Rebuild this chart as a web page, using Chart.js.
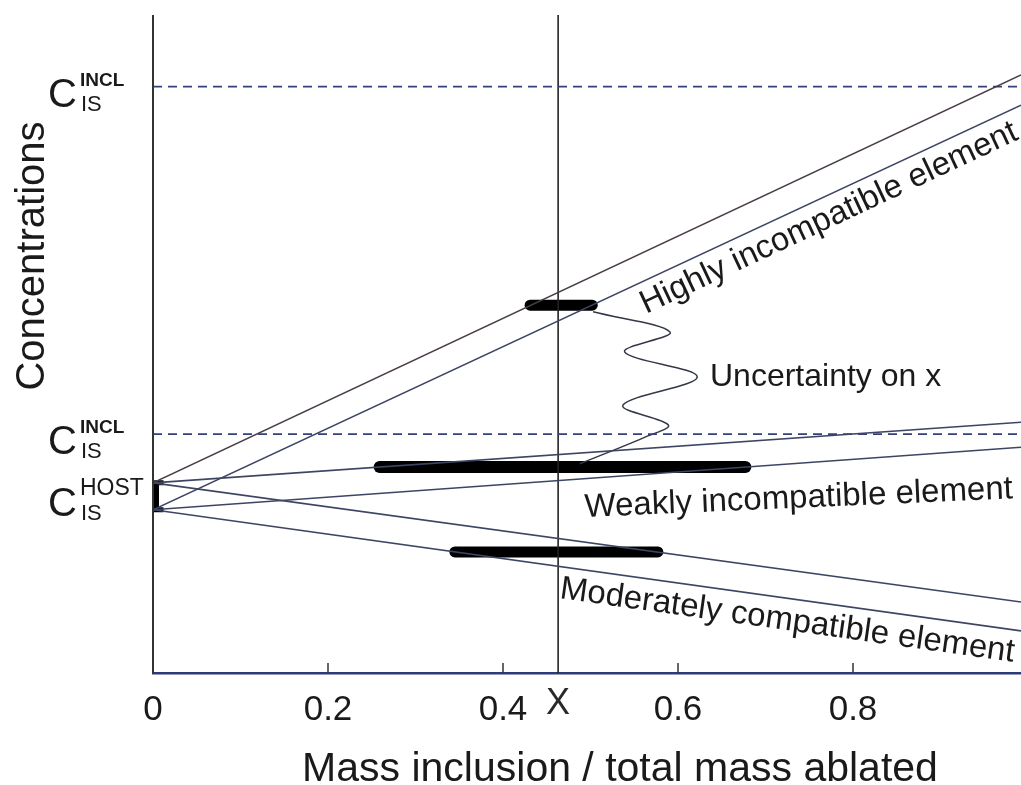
<!DOCTYPE html>
<html>
<head>
<meta charset="utf-8">
<script src="https://cdn.jsdelivr.net/npm/chart.js@4.4.1/dist/chart.umd.min.js"></script>
<style>
  html, body { margin: 0; padding: 0; background: #ffffff; }
  #wrap { width: 1021px; height: 785px; position: relative; }
</style>
</head>
<body>
<div id="wrap"><canvas id="c"></canvas></div>
<script>
// ---- data ----
const xTicks = [0, 0.2, 0.4, 0.6, 0.8];
const xMin = 0;
const xMax = 0.992;
const yMin = 0;
const yMax = 100;

const lineX = [0, 0.992];
const highlyUpperY = [28.9, 90.9];
const highlyLowerY = [24.8, 86.3];
const weaklyUpperY = [28.9, 38.1];
const weaklyLowerY = [24.8, 34.3];
const moderUpperY = [28.9, 10.8];
const moderLowerY = [24.8, 6.4];

const inclHighY = 89.1;
const inclMidY = 36.3;
const hostLowY = 24.8;
const hostHighY = 28.9;
const hostBracketX = [0.012, 0.004, 0.004, 0.012];

const xMeasured = 0.463;

const highlyBarX = [0.431, 0.502];
const highlyBarY = 55.9;
const weaklyBarX = [0.259, 0.677];
const weaklyBarY = 31.3;
const moderBarX = [0.345, 0.577];
const moderBarY = 18.4;

const squiggleX = [0.503, 0.591, 0.539, 0.622, 0.537, 0.589, 0.565, 0.488];
const squiggleY = [54.9, 51.8, 48.8, 45.0, 40.7, 37.7, 36.0, 31.8];

const xTitle = 'Mass inclusion / total mass ablated';
const yTitle = 'Concentrations';
const xMarkLabel = 'X';
const curveLabels = ['Highly incompatible element', 'Uncertainty on x', 'Weakly incompatible element', 'Moderately compatible element'];
const yLevelLabels = [
  { main: 'C', sup: 'INCL', sub: 'IS' },
  { main: 'C', sup: 'INCL', sub: 'IS' },
  { main: 'C', sup: 'HOST', sub: 'IS' }
];

// ---- helpers ----
const FONT = "'Liberation Sans', Arial, Helvetica, sans-serif";
const LINE_COL = '#3d4563';
const DASH_COL = '#34407a';
function pts(xs, ys) { return xs.map((x, i) => ({ x: x, y: ys[i] })); }
function seg(xs, y) { return xs.map(x => ({ x: x, y: y })); }

const datasets = [
  { data: pts(lineX, highlyUpperY), borderColor: '#4a3d4a', borderWidth: 1.6 },
  { data: pts(lineX, highlyLowerY), borderColor: LINE_COL, borderWidth: 1.6 },
  { data: pts(lineX, weaklyUpperY), borderColor: LINE_COL, borderWidth: 1.6 },
  { data: pts(lineX, weaklyLowerY), borderColor: LINE_COL, borderWidth: 1.6 },
  { data: pts(lineX, moderUpperY), borderColor: LINE_COL, borderWidth: 1.6 },
  { data: pts(lineX, moderLowerY), borderColor: LINE_COL, borderWidth: 1.6 },
  { data: seg(lineX, inclHighY), borderColor: DASH_COL, borderWidth: 1.8, borderDash: [9, 6] },
  { data: seg(lineX, inclMidY), borderColor: DASH_COL, borderWidth: 1.8, borderDash: [9, 6] },
  { data: [{ x: xMeasured, y: yMin }, { x: xMeasured, y: yMax }], borderColor: '#222', borderWidth: 1.6 },
  { data: pts(hostBracketX, [hostHighY, hostHighY, hostLowY, hostLowY]), borderColor: '#000', borderWidth: 5, borderJoinStyle: 'miter' },
  { data: pts(squiggleX, squiggleY), borderColor: '#333848', borderWidth: 1.5, tension: 0.35 },
  { data: seg(highlyBarX, highlyBarY), borderColor: '#000', borderWidth: 11, borderCapStyle: 'round' },
  { data: seg(weaklyBarX, weaklyBarY), borderColor: '#000', borderWidth: 12, borderCapStyle: 'round' },
  { data: seg(moderBarX, moderBarY), borderColor: '#000', borderWidth: 11, borderCapStyle: 'round' }
].map(d => Object.assign({ showLine: true, pointRadius: 0, fill: false }, d));

const textPlugin = {
  id: 'texts',
  afterDraw(chart) {
    const ctx = chart.ctx;
    const xs = chart.scales.x, ys = chart.scales.y;
    const area = chart.chartArea;
    ctx.save();
    // y axis line
    ctx.strokeStyle = '#333';
    ctx.lineWidth = 2;
    ctx.beginPath();
    ctx.moveTo(area.left, area.top);
    ctx.lineTo(area.left, area.bottom);
    ctx.stroke();
    // inward x ticks
    ctx.strokeStyle = '#333';
    ctx.lineWidth = 1.5;
    xTicks.forEach(v => {
      if (v === 0) return;
      const px = xs.getPixelForValue(v);
      ctx.beginPath();
      ctx.moveTo(px, area.bottom);
      ctx.lineTo(px, area.bottom - 10);
      ctx.stroke();
    });
    // X mark label
    ctx.textAlign = 'center';
    ctx.textBaseline = 'alphabetic';
    ctx.font = '36px ' + FONT;
    ctx.fillStyle = '#2a2a2a';
    ctx.fillText(xMarkLabel, xs.getPixelForValue(xMeasured), 714);
    // axis titles
    ctx.fillStyle = '#1a1a1a';
    ctx.font = '41px ' + FONT;
    ctx.fillText(xTitle, 620, 781);
    ctx.save();
    ctx.translate(44, 256);
    ctx.rotate(-Math.PI / 2);
    ctx.font = '40px ' + FONT;
    ctx.fillText(yTitle, 0, 0);
    ctx.restore();
    // level labels
    const anchors = [ys.getPixelForValue(inclHighY), ys.getPixelForValue(inclMidY), ys.getPixelForValue((hostLowY + hostHighY) / 2)];
    yLevelLabels.forEach((l, i) => {
      const a = anchors[i];
      ctx.textAlign = 'left';
      ctx.font = '40px ' + FONT;
      ctx.fillText(l.main, 48, a + 20);
      ctx.font = (l.sup === 'HOST' ? '23px ' : 'bold 19px ') + FONT;
      ctx.fillText(l.sup, 80, a - 1);
      ctx.font = '22px ' + FONT;
      ctx.fillText(l.sub, 81, a + 24);
    });
    // curve labels
    ctx.font = '33px ' + FONT;
    ctx.textAlign = 'left';
    const drawRot = (t, x, y, deg) => {
      ctx.save();
      ctx.translate(x, y);
      ctx.rotate(deg * Math.PI / 180);
      ctx.fillText(t, 0, 0);
      ctx.restore();
    };
    drawRot(curveLabels[0], 646, 314, -25.1);
    ctx.font = '32px ' + FONT;
    ctx.fillText(curveLabels[1], 710, 386);
    ctx.font = '33px ' + FONT;
    drawRot(curveLabels[2], 585, 517, -2.5);
    drawRot(curveLabels[3], 559, 598, 8.0);
    ctx.restore();
  }
};

new Chart(document.getElementById('c'), {
  type: 'scatter',
  data: { datasets: datasets },
  options: {
    responsive: true,
    maintainAspectRatio: false,
    animation: false,
    layout: { padding: { left: 153, right: 0, top: 15, bottom: 38 } },
    plugins: { legend: { display: false }, tooltip: { enabled: false } },
    scales: {
      x: {
        type: 'linear',
        min: xMin,
        max: xMax,
        afterBuildTicks: s => { s.ticks = xTicks.map(v => ({ value: v })); },
        grid: { display: false, drawTicks: false },
        border: { display: true, color: '#2d3a78', width: 2.5 },
        ticks: {
          font: { family: FONT, size: 35 },
          color: '#1a1a1a',
          padding: 16,
          maxRotation: 0,
          autoSkip: false,
          callback: v => String(v)
        }
      },
      y: { type: 'linear', display: false, min: yMin, max: yMax }
    }
  },
  plugins: [textPlugin]
});
</script>
</body>
</html>
